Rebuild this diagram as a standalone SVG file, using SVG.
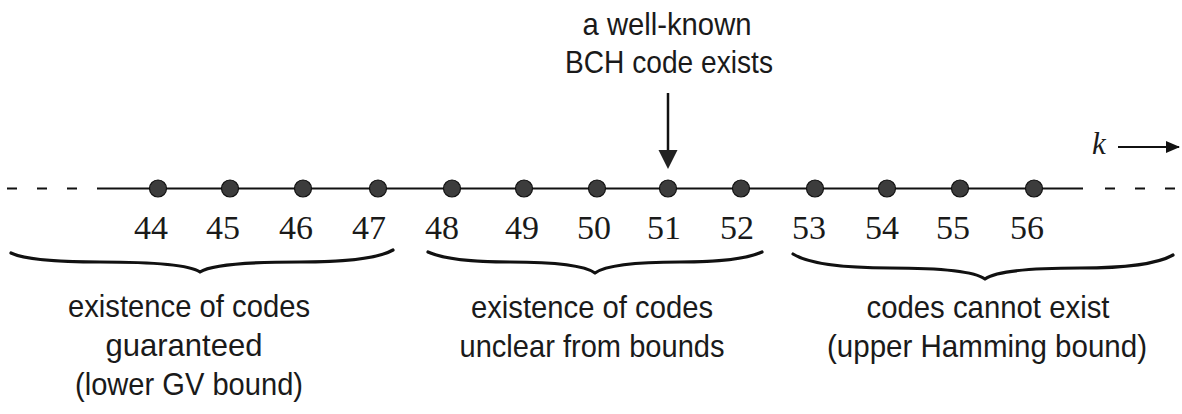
<svg xmlns="http://www.w3.org/2000/svg" width="1182" height="414" viewBox="0 0 1182 414">
<defs>
<style>
.ax{stroke:#111;stroke-width:2;fill:none}
.dash{stroke:#111;stroke-width:2;fill:none;stroke-dasharray:10 20}
.dot{fill:#3c3c3c;stroke:#111;stroke-width:1.2}
.num{font-family:"Liberation Serif",serif;font-size:34px;fill:#1a1a1a;text-anchor:middle}
.lbl{font-family:"Liberation Sans",Arial,sans-serif;font-size:32px;fill:#1a1a1a;text-anchor:middle}
.brace{stroke:#111;stroke-width:3.2;fill:none;stroke-linecap:round;stroke-linejoin:round}
</style>
<marker id="ah" markerWidth="14" markerHeight="12" refX="13" refY="6" orient="auto" markerUnits="userSpaceOnUse">
<path d="M0,0 L14,6 L0,12 z" fill="#111"/>
</marker>
</defs>
<rect width="1182" height="414" fill="#fff"/>
<g id="connectors">
<line class="dash" x1="7" y1="188.5" x2="97" y2="188.5"/>
<line class="ax" x1="97" y1="188.5" x2="1083" y2="188.5"/>
<line class="dash" x1="1105" y1="188.5" x2="1180" y2="188.5"/>
<line x1="668" y1="93" x2="668" y2="151" stroke="#111" stroke-width="2.5"/>
<path d="M658.5,150 L677.5,150 L668,169 z" fill="#222"/>
<line x1="1118" y1="147" x2="1179" y2="147" stroke="#111" stroke-width="2" marker-end="url(#ah)"/>
</g>
<g id="k-label"><text x="1099" y="154" font-family="Liberation Serif,serif" font-style="italic" font-size="31" fill="#1a1a1a" text-anchor="middle">k</text></g>
<g id="points">
<circle class="dot" cx="158" cy="188.5" r="8.5"/>
<circle class="dot" cx="230" cy="188.5" r="8.5"/>
<circle class="dot" cx="303" cy="188.5" r="8.5"/>
<circle class="dot" cx="378" cy="188.5" r="8.5"/>
<circle class="dot" cx="452" cy="188.5" r="8.5"/>
<circle class="dot" cx="524" cy="188.5" r="8.5"/>
<circle class="dot" cx="597" cy="188.5" r="8.5"/>
<circle class="dot" cx="668" cy="188.5" r="8.5"/>
<circle class="dot" cx="741" cy="188.5" r="8.5"/>
<circle class="dot" cx="815" cy="188.5" r="8.5"/>
<circle class="dot" cx="887" cy="188.5" r="8.5"/>
<circle class="dot" cx="960" cy="188.5" r="8.5"/>
<circle class="dot" cx="1034" cy="188.5" r="8.5"/>
</g>
<g id="numbers">
<text class="num" x="151" y="239">44</text>
<text class="num" x="223" y="239">45</text>
<text class="num" x="296" y="239">46</text>
<text class="num" x="369" y="239">47</text>
<text class="num" x="442" y="239">48</text>
<text class="num" x="522" y="239">49</text>
<text class="num" x="594" y="239">50</text>
<text class="num" x="664" y="239">51</text>
<text class="num" x="737" y="239">52</text>
<text class="num" x="809" y="239">53</text>
<text class="num" x="882" y="239">54</text>
<text class="num" x="953" y="239">55</text>
<text class="num" x="1027" y="239">56</text>
</g>
<g id="bch-label">
<text class="lbl" x="667" y="35" textLength="169" lengthAdjust="spacingAndGlyphs">a well-known</text>
<text class="lbl" x="669" y="73" textLength="208" lengthAdjust="spacingAndGlyphs">BCH code exists</text>
</g>
<g id="brace-gv">
<path class="brace" d="M11,253 Q30,262 100,262 Q185,262 200,272 Q215,262 300,262 Q372,262 393,250"/>
<text class="lbl" x="189" y="317" textLength="242" lengthAdjust="spacingAndGlyphs">existence of codes</text>
<text class="lbl" x="184" y="356" textLength="157" lengthAdjust="spacingAndGlyphs">guaranteed</text>
<text class="lbl" x="189" y="395" textLength="228" lengthAdjust="spacingAndGlyphs">(lower GV bound)</text>
</g>
<g id="brace-unclear">
<path class="brace" d="M428,252 Q450,262 510,262 Q580,262 595,273 Q610,262 680,262 Q740,262 762,252"/>
<text class="lbl" x="592" y="318" textLength="242" lengthAdjust="spacingAndGlyphs">existence of codes</text>
<text class="lbl" x="592" y="357" textLength="265" lengthAdjust="spacingAndGlyphs">unclear from bounds</text>
</g>
<g id="brace-hamming">
<path class="brace" d="M793,254 Q815,268 890,268 Q970,268 985,279 Q1000,268 1080,268 Q1150,268 1173,255"/>
<text class="lbl" x="988" y="318" textLength="243" lengthAdjust="spacingAndGlyphs">codes cannot exist</text>
<text class="lbl" x="987" y="357" textLength="320" lengthAdjust="spacingAndGlyphs">(upper Hamming bound)</text>
</g>
</svg>
